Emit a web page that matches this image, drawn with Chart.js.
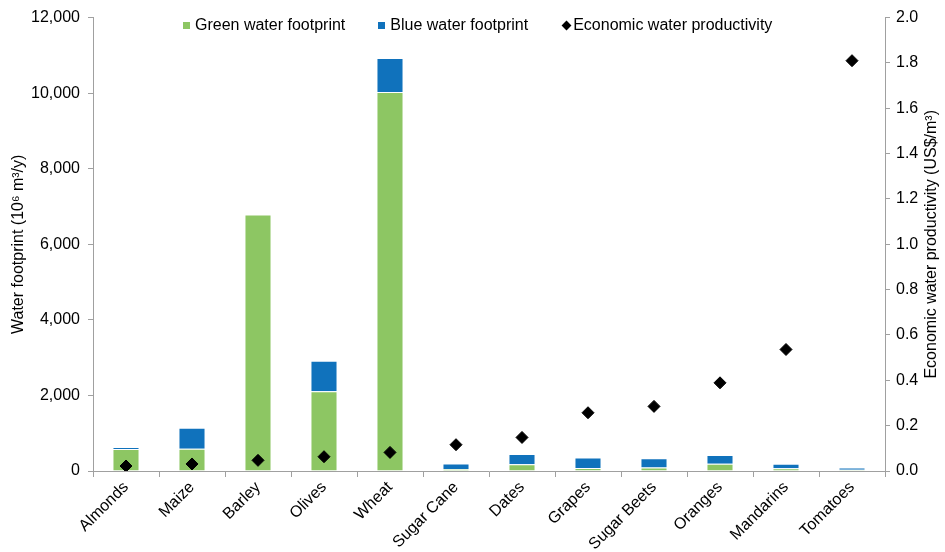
<!DOCTYPE html>
<html>
<head>
<meta charset="utf-8">
<script src="https://cdn.jsdelivr.net/npm/chart.js@4/dist/chart.umd.min.js"></script>
<style>
  body { margin: 0; background: #fff; }
  #wrap { position: relative; width: 945px; height: 552px; }
  #legend { position: absolute; top: 16px; left: 183px; display: flex; align-items: center; font: 16px/18px "Liberation Sans", Arial, sans-serif; color: #000; white-space: nowrap; }
  #legend .item { display: flex; align-items: center; margin-right: 33px; }
  #legend i { display: block; width: 7px; height: 7px; margin-right: 5px; }
  #legend b { display: block; width: 7px; height: 7px; background: #000; transform: rotate(45deg); margin: 0 3px 0 2px; }
</style>
</head>
<body>
<div id="wrap">
  <canvas id="chart" width="945" height="552"></canvas>
  <div id="legend">
    <span class="item"><i style="background:#8dc663"></i>Green water footprint</span>
    <span class="item"><i style="background:#1072bc"></i>Blue water footprint</span>
    <span class="item"><b></b>Economic water productivity</span>
  </div>
</div>
<script>
// --- data ---
const crops = ['Almonds', 'Maize', 'Barley', 'Olives', 'Wheat', 'Sugar Cane', 'Dates', 'Grapes', 'Sugar Beets', 'Oranges', 'Mandarins', 'Tomatoes'];
const greenWF = [580, 590, 6790, 2110, 10030, 50, 180, 80, 90, 190, 70, 30];
const blueWF = [55, 555, 0, 810, 900, 150, 270, 280, 245, 235, 125, 60];
const productivity = [0.022, 0.031, 0.047, 0.063, 0.082, 0.116, 0.148, 0.257, 0.285, 0.389, 0.536, 1.81];

const axisGrey = '#a0a0a0';
const fontFamily = '"Liberation Sans", Arial, sans-serif';
const font = { family: fontFamily, size: 16 };
const rightTitle = 'Economic water productivity (US$/m\u00b3)';

// right axis title reads bottom-to-top in the reference, so draw it by hand
const rightTitlePlugin = {
    id: 'rightTitle',
    afterDraw(chart) {
        const ctx = chart.ctx;
        const area = chart.chartArea;
        ctx.save();
        ctx.translate(932, (area.top + area.bottom) / 2);
        ctx.rotate(-Math.PI / 2);
        ctx.font = '16px ' + fontFamily;
        ctx.fillStyle = '#000';
        ctx.textAlign = 'center';
        ctx.textBaseline = 'middle';
        ctx.fillText(rightTitle, 0, 0);
        ctx.restore();
    }
};

new Chart(document.getElementById('chart'), {
    type: 'bar',
    data: {
        labels: crops,
        datasets: [
            {
                label: 'Green water footprint',
                data: greenWF,
                backgroundColor: '#8dc663',
                borderColor: 'rgba(255,255,255,0.4)',
                borderWidth: 1,
                stack: 'wf',
                yAxisID: 'y',
                order: 2,
                categoryPercentage: 1,
                barPercentage: 0.41
            },
            {
                label: 'Blue water footprint',
                data: blueWF,
                backgroundColor: '#1072bc',
                borderColor: 'rgba(255,255,255,0.4)',
                borderWidth: 1,
                stack: 'wf',
                yAxisID: 'y',
                order: 2,
                categoryPercentage: 1,
                barPercentage: 0.41
            },
            {
                type: 'line',
                label: 'Economic water productivity',
                data: productivity,
                showLine: false,
                pointStyle: 'rectRot',
                pointRadius: 6,
                pointBackgroundColor: '#000',
                pointBorderColor: '#000',
                yAxisID: 'y1',
                order: 0
            }
        ]
    },
    options: {
        responsive: false,
        animation: false,
        layout: { padding: { top: 17, left: 0, right: 0, bottom: 0 } },
        plugins: {
            legend: { display: false },
            tooltip: { enabled: false }
        },
        scales: {
            x: {
                stacked: true,
                grid: { drawOnChartArea: false, drawTicks: true, tickLength: 6, color: axisGrey },
                border: { color: axisGrey },
                ticks: { color: '#000', font: font, minRotation: 45, maxRotation: 45, padding: 1 },
                afterFit: s => { s.height = 81; }
            },
            y: {
                position: 'left',
                stacked: true,
                min: 0, max: 12000,
                grid: { drawOnChartArea: false, tickLength: 5, color: axisGrey },
                border: { color: axisGrey },
                ticks: { stepSize: 2000, color: '#000', font: font, padding: 8,
                    callback: v => v.toLocaleString('en-US') },
                title: { display: true, text: 'Water footprint (10\u2076 m\u00b3/y)', color: '#000', font: font, padding: { top: 9, bottom: 0 } },
                afterFit: s => { s.width = 93; }
            },
            y1: {
                position: 'right',
                min: 0, max: 2,
                grid: { drawOnChartArea: false, tickLength: 5, color: axisGrey },
                border: { color: axisGrey },
                ticks: { stepSize: 0.2, color: '#000', font: font, padding: 6,
                    callback: v => v.toFixed(1) },
                afterFit: s => { s.width = 60; }
            }
        }
    },
    plugins: [rightTitlePlugin]
});
</script>
</body>
</html>
